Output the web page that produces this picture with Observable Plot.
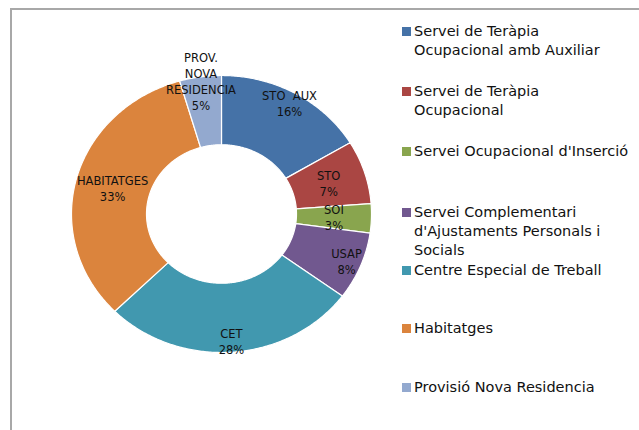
<!DOCTYPE html>
<html><head><meta charset="utf-8">
<script src="https://cdn.jsdelivr.net/npm/d3@7"></script>
<script src="https://cdn.jsdelivr.net/npm/@observablehq/plot@0.6"></script>
<style>
body{margin:0;background:#fff;}
#wrap{position:relative;width:639px;height:430px;overflow:hidden;font-family:"DejaVu Sans",sans-serif;}
#frame{position:absolute;left:10px;top:8px;width:700px;height:500px;border-left:2px solid #a8a8a8;border-top:2px solid #a8a8a8;}
#chart{position:absolute;left:0;top:0;}
.leg{position:absolute;left:414px;font-size:14.5px;line-height:19px;color:#111;white-space:nowrap;}
.sw{position:absolute;left:402px;width:9px;height:9px;}
</style></head><body>
<div id="wrap"><div id="frame"></div><div id="chart"></div><div id="legend"></div></div>
<script>
const categories = [
  "Servei de Teràpia\nOcupacional amb Auxiliar",
  "Servei de Teràpia\nOcupacional",
  "Servei Ocupacional d'Inserció",
  "Servei Complementari\nd'Ajustaments Personals i\nSocials",
  "Centre Especial de Treball",
  "Habitatges",
  "Provisió Nova Residencia"
];
const shortLabels = ["STO  AUX", "STO", "SOI", "USAP", "CET", "HABITATGES", "PROV.\nNOVA\nRESIDENCIA"];
const values = [16.4, 7.4, 3.4, 7.9, 27.5, 32.9, 4.5];
const colors = ["#4572A7", "#AA4643", "#89A54E", "#71588F", "#4198AF", "#DB843D", "#93A9CF"];

// layout / style settings (not data)
const innerR = 0.5;
const labelR = [0.92, 0.75, 0.75, 0.9, 0.92, 0.75, 0.97];
const legendTops = [31, 91, 151, 212, 270, 328, 387];

const total = d3.sum(values);
const polys = [];
const labels = [];
let cum = 0;
values.forEach((v, i) => {
  const a0 = cum / total * 2 * Math.PI;
  const a1 = (cum + v) / total * 2 * Math.PI;
  const n = Math.max(4, Math.ceil((a1 - a0) / 0.01));
  for (let k = 0; k <= n; k++) {
    const t = a0 + (a1 - a0) * k / n;
    polys.push({name: categories[i], x: Math.sin(t), y: Math.cos(t)});
  }
  for (let k = n; k >= 0; k--) {
    const t = a0 + (a1 - a0) * k / n;
    polys.push({name: categories[i], x: innerR * Math.sin(t), y: innerR * Math.cos(t)});
  }
  const am = (a0 + a1) / 2;
  labels.push({x: labelR[i] * Math.sin(am), y: labelR[i] * Math.cos(am), text: shortLabels[i] + "\n" + Math.round(v / total * 100) + "%"});
  cum += v;
});

const plot = Plot.plot({
  width: 639, height: 430,
  marginLeft: 71, marginRight: 268, marginTop: 75, marginBottom: 78,
  x: {domain: [-1, 1], axis: null},
  y: {domain: [-1, 1], axis: null},
  color: {domain: categories, range: colors},
  style: {background: "transparent", fontFamily: "DejaVu Sans, sans-serif"},
  marks: [
    Plot.line(polys, {x: "x", y: "y", z: "name", fill: "name", stroke: "white", strokeWidth: 1.2, curve: "linear-closed"}),
    Plot.text(labels, {x: "x", y: "y", text: "text", fontSize: 11.5, lineHeight: 1.4, fill: "#111"})
  ]
});
document.getElementById("chart").appendChild(plot);

const leg = document.getElementById("legend");
categories.forEach((c, i) => {
  const sw = document.createElement("div");
  sw.className = "sw";
  sw.style.top = (legendTops[i] - 4.5) + "px";
  sw.style.background = colors[i];
  leg.appendChild(sw);
  const t = document.createElement("div");
  t.className = "leg";
  t.style.top = (legendTops[i] - 9.5) + "px";
  t.innerHTML = c.split("\n").join("<br>");
  leg.appendChild(t);
});
</script>
</body></html>
